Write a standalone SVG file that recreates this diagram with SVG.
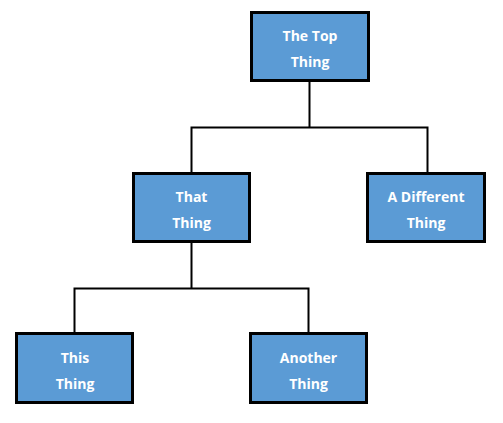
<svg xmlns="http://www.w3.org/2000/svg" width="503" height="423" viewBox="0 0 503 423">
<style>
.box{fill:#5B9BD5;stroke:#000;stroke-width:3}
.lbl{font-family:"Open Sans","Liberation Sans",sans-serif;font-weight:bold;font-size:14px;fill:#fff;text-anchor:middle}
.con{fill:none;stroke:#000;stroke-width:2}
</style>
<rect width="503" height="423" fill="#fff"/>
<g id="connectors">
<path class="con" d="M309.5 81V127.5M191.5 127.5H427.5M191.5 126.5V172M427.5 126.5V172"/>
<path class="con" d="M191.5 243V288.5M74.5 288.5H308.5M74.5 287.5V332M308.5 287.5V332"/>
</g>
<g id="top"><rect class="box" x="251.5" y="12.5" width="117" height="68"/><text class="lbl" x="310" y="41">The Top</text><text class="lbl" x="310" y="67">Thing</text></g>
<g id="that"><rect class="box" x="133.5" y="173.5" width="116" height="68"/><text class="lbl" x="191.5" y="202">That</text><text class="lbl" x="191.5" y="228">Thing</text></g>
<g id="different"><rect class="box" x="367.5" y="173.5" width="117" height="68"/><text class="lbl" x="426" y="202">A Different</text><text class="lbl" x="426" y="228">Thing</text></g>
<g id="this"><rect class="box" x="16.5" y="333.5" width="116" height="69"/><text class="lbl" x="75" y="363">This</text><text class="lbl" x="75" y="389">Thing</text></g>
<g id="another"><rect class="box" x="250.5" y="333.5" width="116" height="69"/><text class="lbl" x="308.5" y="363">Another</text><text class="lbl" x="308.5" y="389">Thing</text></g>
</svg>
